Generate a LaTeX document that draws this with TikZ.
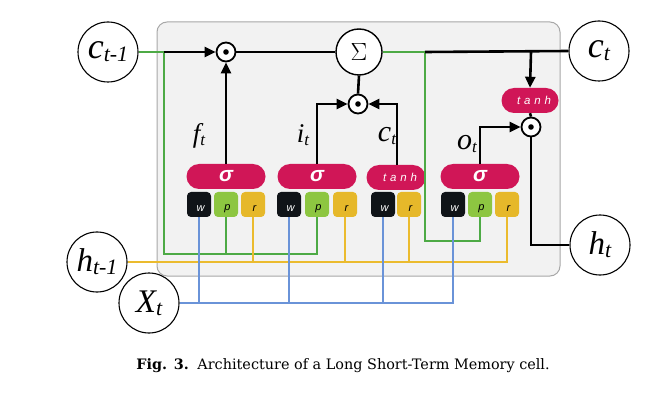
\documentclass[tikz,border=0pt]{standalone}
\usepackage{fontspec}
\setmainfont{Liberation Serif}
\newfontfamily\capfont{DejaVu Serif}
\newfontfamily\gatefont{Liberation Sans}
\usetikzlibrary{arrows.meta}

\definecolor{cellbg}{HTML}{F2F2F2}
\definecolor{cellrim}{HTML}{A8A8A8}
\definecolor{gatered}{HTML}{D01657}
\definecolor{wblack}{HTML}{101418}
\definecolor{pgreen}{HTML}{8DC641}
\definecolor{ryellow}{HTML}{E6B82A}
\definecolor{lgreen}{HTML}{4DAA45}
\definecolor{lyellow}{HTML}{EBBB2E}
\definecolor{lblue}{HTML}{6A93D8}

% italic symbol with a lowered subscript
\newcommand{\sublbl}[4]{{\fontsize{#3}{#3}\selectfont\itshape #1}\raisebox{-0.3em}{\fontsize{#4}{#4}\selectfont\itshape #2}}

\begin{document}
\begin{tikzpicture}[x=1pt,y=-1pt,
  iocircle/.style={circle,draw,line width=1.1pt,fill=white,minimum size=60pt,inner sep=0pt},
  opdot/.style={circle,draw,line width=1.8pt,fill=white,minimum size=19pt,inner sep=0pt,
    path picture={\fill[black] (path picture bounding box.center) circle (2.8pt);}},
  sumnode/.style={circle,draw,line width=1.4pt,fill=white,minimum size=46pt,inner sep=0pt},
  pill/.style={rectangle,rounded corners=12.5pt,fill=gatered,minimum width=79pt,minimum height=25pt,inner sep=0pt,text=white},
  sigtext/.style={font=\gatefont\fontsize{21}{21}\selectfont\bfseries\itshape},
  tanhtext/.style={font=\gatefont\fontsize{11.5}{11.5}\selectfont\itshape},
  wbox/.style={rectangle,rounded corners=4pt,minimum width=24pt,minimum height=25pt,inner sep=0pt},
  boxletter/.style={font=\gatefont\fontsize{11}{11}\selectfont\itshape,xshift=1.5pt,yshift=-4.5pt},
  wire/.style={line width=2.6pt,black},
  arr/.style={wire,-{Triangle[length=11pt,width=10pt]}},
  gline/.style={line width=2.6pt,lgreen},
  yline/.style={line width=2.6pt,lyellow},
  bline/.style={line width=2.6pt,lblue},
  lab/.style={inner sep=0pt}
]
\useasboundingbox (0,0) rectangle (653,414);

% cell body
\draw[cellrim,fill=cellbg,line width=1pt,rounded corners=10pt] (157,22) rectangle (560,276);

% inputs and outputs
\node[iocircle] (cprev) at (108,52) {\sublbl{c}{t-1}{36}{22}};
\node[iocircle] (cnext) at (599,51) {\sublbl{c}{t}{36}{22}};
\node[iocircle] (hnext) at (600,245) {\sublbl{h}{t}{33}{22}};
\node[iocircle] (hprev) at (97,262) {\sublbl{h}{t-1}{33}{22}};
\node[iocircle] (xin) at (149,303) {\sublbl{X}{t}{33}{22}};

% pointwise operations
\node[sumnode] (sum) at (359,52) {\fontsize{32}{32}\selectfont$\Sigma$};
\node[opdot] (fdot) at (226,52) {};
\node[opdot] (idot) at (358,104) {};
\node[opdot] (odot) at (531,127) {};

% activations
\node[pill] (fg) at (226,176.5) {};
\node[sigtext,text=white] at (fg) {σ};
\node[pill] (ig) at (317,176.5) {};
\node[sigtext,text=white] at (ig) {σ};
\node[pill,minimum width=59pt] (cg) at (396,177.5) {};
\node[tanhtext,text=white,xshift=4pt] at (cg) {t\,\,a\,\,n\,\,h};
\node[pill] (og) at (480,176.5) {};
\node[sigtext,text=white] at (og) {σ};
\node[pill,minimum width=57pt] (tg) at (530,100.5) {};
\node[tanhtext,text=white,xshift=4pt] at (tg) {t\,\,a\,\,n\,\,h};

% weight blocks w / p / r
\foreach \g/\x/\k/\c/\t in {f/199/w/wblack/white, f/226/p/pgreen/black, f/253/r/ryellow/black,
                             i/289/w/wblack/white, i/317/p/pgreen/black, i/345/r/ryellow/black,
                             c/383/w/wblack/white, c/409/r/ryellow/black,
                             o/453/w/wblack/white, o/480/p/pgreen/black, o/507/r/ryellow/black}{
  \node[wbox,fill=\c] (\g\k) at (\x,204.5) {};
  \node[boxletter,text=\t] at (\g\k) {\k};
}

% gate labels
\node[lab] (flab) at (199,136) {\sublbl{f}{t}{27}{17}};
\node[lab] (ilab) at (303,135) {\sublbl{i}{t}{27}{17}};
\node[lab] (clab) at (387,136) {\sublbl{c}{t}{30}{17}};
\node[lab] (olab) at (467,144) {\sublbl{o}{t}{30}{17}};

% corner points of the peephole and state wires
\coordinate (gA) at (164,52);
\coordinate (gA2) at (164,254);
\coordinate (gB) at (425,52);
\coordinate (gB2) at (425,241);
\coordinate (tap) at (531,52);

% peephole connections (cell state)
\draw[gline] (cprev.east) -- (gA) -- (gA2) -| (ip.south);
\draw[gline] (fp.south) -- (fp.south |- gA2);
\draw[gline] (sum.east) -- (gB) -- (gB2) -| (op.south);

% recurrent input h_{t-1}
\draw[yline] (hprev.east) -| (or.south);
\draw[yline] (fr.south) -- (fr.south |- hprev.east);
\draw[yline] (ir.south) -- (ir.south |- hprev.east);
\draw[yline] (cr.south) -- (cr.south |- hprev.east);

% input x_t
\draw[bline] (xin.east) -| (ow.south);
\draw[bline] (fw.south) -- (fw.south |- xin.east);
\draw[bline] (iw.south) -- (iw.south |- xin.east);
\draw[bline] (cw.south) -- (cw.south |- xin.east);

% cell state path
\draw[arr] (gA) -- (fdot.west);
\draw[wire] (fdot.east) -- (sum.west);
\draw[wire] (gB) -- (cnext.west);
\draw[arr] (tap) -- (tg.north);
\draw[wire] (tg.south) -- (odot.north);
\draw[wire] (sum.south) -- (idot.north);

% gate outputs
\draw[arr] (fg.north) -- (fdot.south);
\draw[arr] (ig.north) |- (idot.west);
\draw[arr] ([xshift=1pt]cg.north) |- (idot.east);
\draw[arr] (og.north) |- (odot.west);
\draw[wire] (odot.south) |- (hnext.west);

% caption
\node (cap) at (343,366) {\capfont\fontsize{14.4}{14.4}\selectfont\textbf{Fig. 3.}\hspace{0.6em}Architecture of a Long Short-Term Memory cell.};
\end{tikzpicture}
\end{document}
